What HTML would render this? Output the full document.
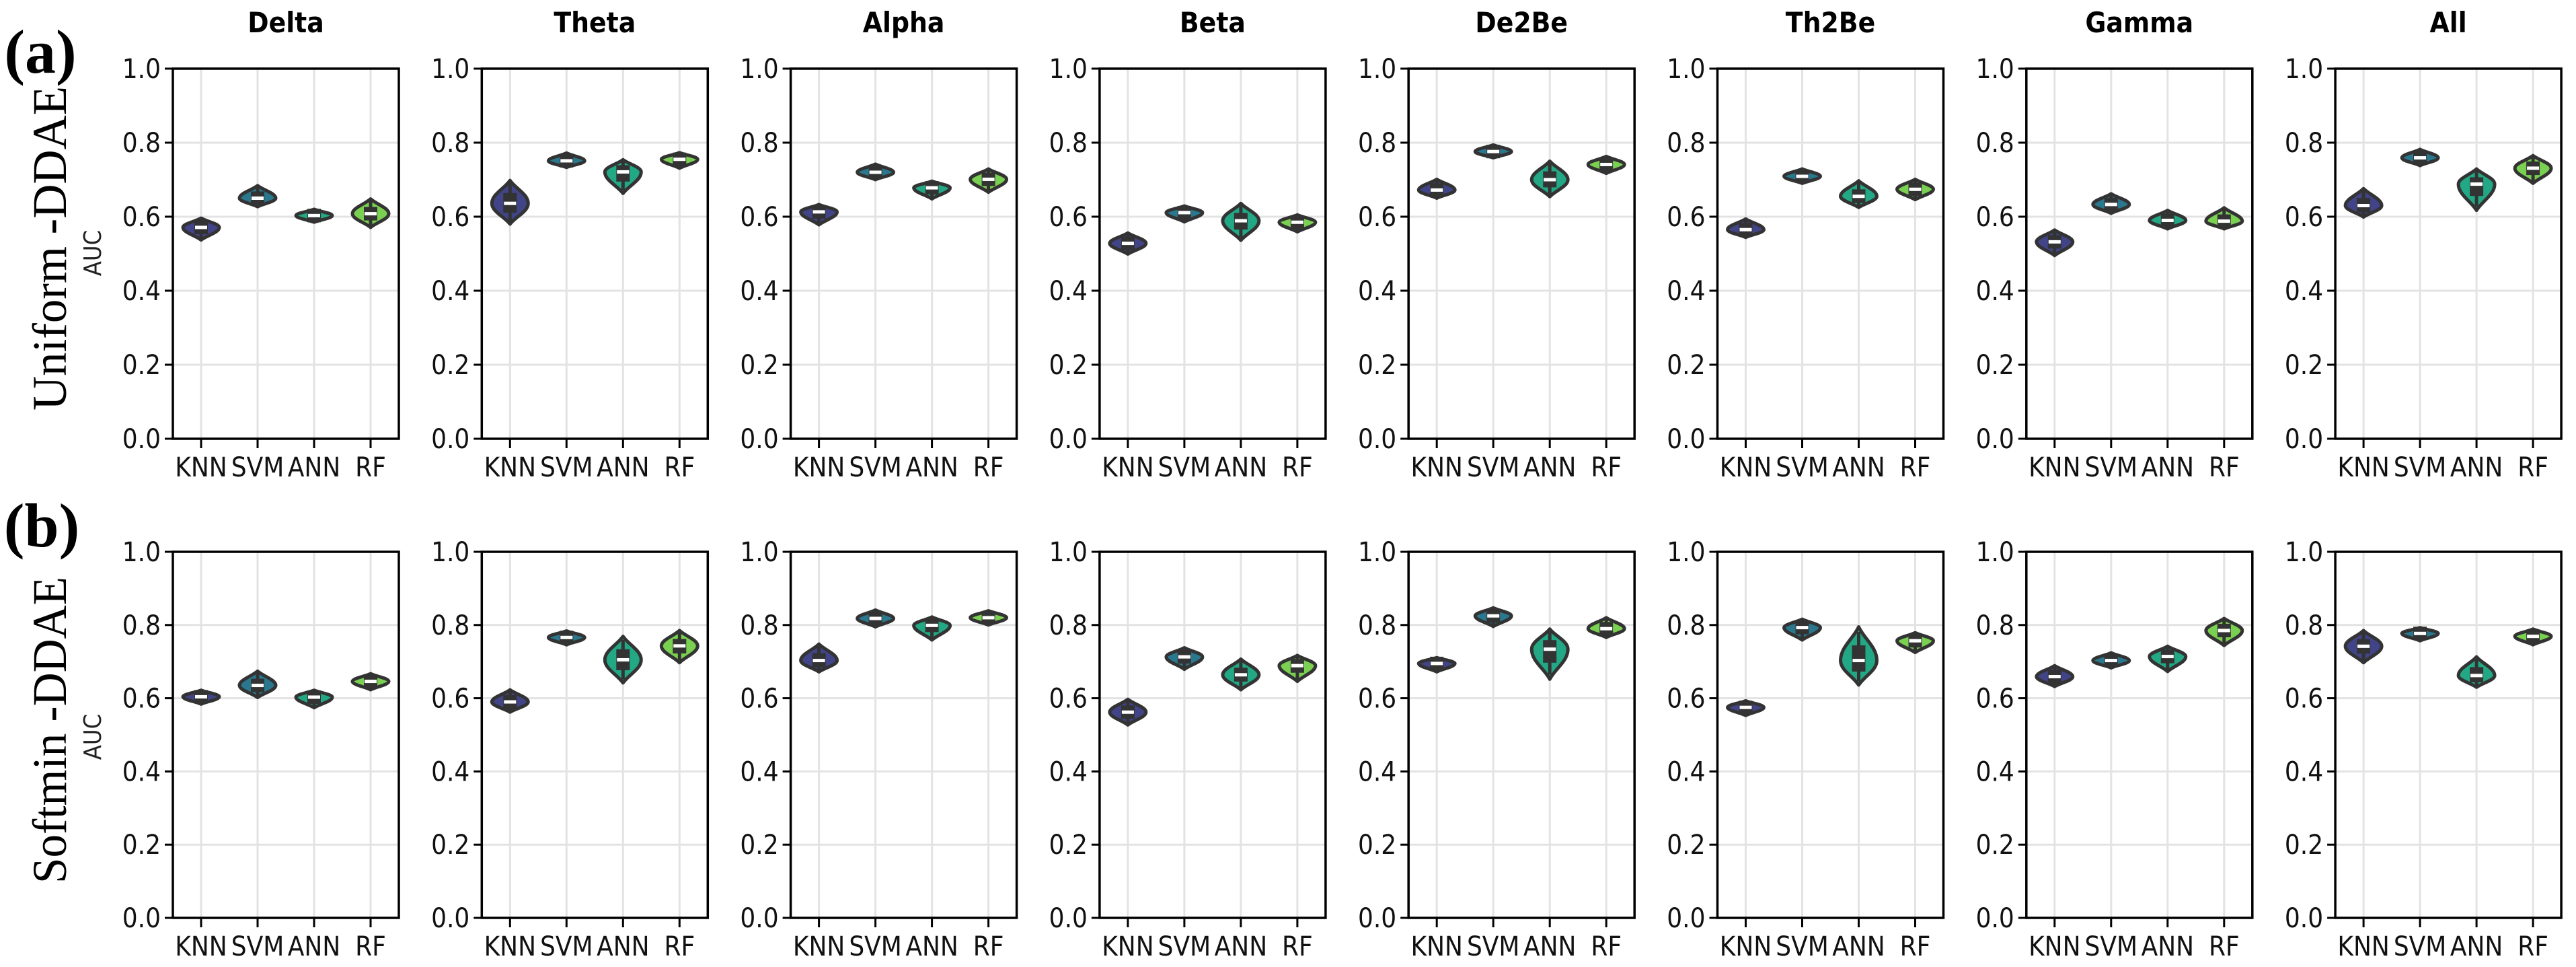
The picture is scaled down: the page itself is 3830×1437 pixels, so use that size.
<!DOCTYPE html>
<html><head><meta charset="utf-8"><style>
html,body{margin:0;padding:0;background:#fff;}
svg{display:block;}
text{font-family:"DejaVu Sans Condensed","DejaVu Sans","Liberation Sans",sans-serif;}
.serif{font-family:"Liberation Serif",serif;}
</style></head><body>
<svg id="fig" width="3830" height="1437" viewBox="0 0 3830 1437" xmlns="http://www.w3.org/2000/svg">
<text class="serif" x="60" y="108" font-weight="bold" font-size="92" fill="#000" text-anchor="middle">(a)</text>
<text class="serif" x="62" y="812" font-weight="bold" font-size="92" fill="#000" text-anchor="middle">(b)</text>
<text class="serif" transform="translate(98,369) rotate(-90)" font-size="72" fill="#000" text-anchor="middle" textLength="482" lengthAdjust="spacingAndGlyphs">Uniform -DDAE</text>
<text class="serif" transform="translate(98,1085) rotate(-90)" font-size="72" fill="#000" text-anchor="middle" textLength="456" lengthAdjust="spacingAndGlyphs">Softmin -DDAE</text>
</svg>
<script>
const bands = ["Delta","Theta","Alpha","Beta","De2Be","Th2Be","Gamma","All"];
const classifiers = ["KNN","SVM","ANN","RF"];
const yTicks = [0.0,0.2,0.4,0.6,0.8,1.0];
const yTickLabels = ["0.0","0.2","0.4","0.6","0.8","1.0"];
// Row a (Uniform-DDAE): median, min, max per band [KNN,SVM,ANN,RF]
const uniformMedian = [[0.571,0.650,0.603,0.608],[0.636,0.751,0.721,0.755],[0.613,0.720,0.678,0.701],[0.528,0.611,0.589,0.585],[0.672,0.776,0.700,0.741],[0.565,0.709,0.655,0.674],[0.532,0.633,0.590,0.588],[0.630,0.759,0.688,0.731]];
const uniformMin = [[0.537,0.627,0.585,0.571],[0.580,0.733,0.663,0.731],[0.578,0.700,0.648,0.666],[0.499,0.586,0.536,0.559],[0.650,0.759,0.654,0.717],[0.544,0.690,0.625,0.646],[0.495,0.609,0.567,0.567],[0.599,0.738,0.617,0.690]];
const uniformMax = [[0.596,0.684,0.620,0.648],[0.698,0.772,0.754,0.773],[0.633,0.742,0.696,0.729],[0.556,0.629,0.636,0.605],[0.701,0.794,0.750,0.763],[0.594,0.729,0.697,0.701],[0.564,0.662,0.617,0.624],[0.676,0.782,0.729,0.765]];
// Row b (Softmin-DDAE)
const softminMedian = [[0.604,0.635,0.603,0.646],[0.590,0.766,0.705,0.743],[0.703,0.818,0.799,0.820],[0.562,0.713,0.664,0.689],[0.695,0.825,0.734,0.790],[0.575,0.793,0.703,0.757],[0.659,0.703,0.714,0.785],[0.742,0.777,0.662,0.769]];
const softminMin = [[0.584,0.602,0.574,0.623],[0.562,0.746,0.642,0.697],[0.672,0.795,0.759,0.800],[0.527,0.679,0.623,0.646],[0.672,0.796,0.652,0.766],[0.553,0.759,0.636,0.725],[0.632,0.683,0.673,0.744],[0.697,0.757,0.630,0.746]];
const softminMax = [[0.622,0.674,0.622,0.667],[0.623,0.784,0.769,0.785],[0.748,0.841,0.822,0.839],[0.597,0.738,0.707,0.717],[0.711,0.847,0.789,0.820],[0.593,0.816,0.795,0.779],[0.689,0.724,0.742,0.818],[0.785,0.793,0.713,0.789]];

const colors = ["#414487","#2a788e","#22a884","#7ad151"];
const svg = document.getElementById('fig');
const NS = "http://www.w3.org/2000/svg";
function mk(tag, attrs, parent){const e=document.createElementNS(NS,tag);for(const k in attrs)e.setAttribute(k,attrs[k]);(parent||svg).appendChild(e);return e;}

const rows = [
 {top:102,bottom:652,med:uniformMedian,lo:uniformMin,hi:uniformMax,label:'uniform',xlab:708,auc:376},
 {top:820,bottom:1364,med:softminMedian,lo:softminMin,hi:softminMax,label:'softmin',xlab:1420,auc:1095}
];
const panelLeft0 = 257, pitch = 459.3, panelW = 336;

rows.forEach((row, ri) => {
  const yS = v => row.bottom - v*(row.bottom-row.top);
  bands.forEach((band, bi) => {
    const L = panelLeft0 + bi*pitch, R = L + panelW;
    const xS = i => L + panelW*(i+0.5)/4;
    const g = mk('g',{});
    
    
    yTicks.forEach((t, ti) => {
      const gl = mk('line',{x1:L,x2:R,y1:yS(t),y2:yS(t),stroke:'#e3e3e3','stroke-width':3},g);
      
      
      const tk = mk('line',{x1:L-12,x2:L,y1:yS(t),y2:yS(t),stroke:'#000','stroke-width':3},g);
      
      
      const tl = mk('text',{x:L-18,y:yS(t)+14,'font-size':40,'text-anchor':'end',fill:'#111'},g);
      tl.textContent = yTickLabels[ti];
      
      
    });
    classifiers.forEach((c, ci) => {
      const gl = mk('line',{x1:xS(ci),x2:xS(ci),y1:row.top,y2:row.bottom,stroke:'#e3e3e3','stroke-width':3},g);
      
      
      const tk = mk('line',{x1:xS(ci),x2:xS(ci),y1:row.bottom,y2:row.bottom+14,stroke:'#000','stroke-width':3},g);
      
      
      const tl = mk('text',{x:xS(ci),y:row.xlab,'font-size':40,'text-anchor':'middle',fill:'#111'},g);
      tl.textContent = c;
      
      
    });
    classifiers.forEach((c, ci) => {
      const m=row.med[bi][ci], lo=row.lo[bi][ci], hi=row.hi[bi][ci];
      const x=xS(ci), ym=yS(m), yl=yS(lo), yh=yS(hi), hw=27;
      const vg = mk('g',{},g);
      
      
      const up = ym-yh, dn = yl-ym;
      const d = `M ${x} ${yh} C ${x+hw*0.3} ${yh+up*0.35}, ${x+hw} ${ym-up*0.4}, ${x+hw} ${ym} C ${x+hw} ${ym+dn*0.4}, ${x+hw*0.3} ${yl-dn*0.35}, ${x} ${yl} C ${x-hw*0.3} ${yl-dn*0.35}, ${x-hw} ${ym+dn*0.4}, ${x-hw} ${ym} C ${x-hw} ${ym-up*0.4}, ${x-hw*0.3} ${yh+up*0.35}, ${x} ${yh} Z`;
      const p = mk('path',{d:d,fill:colors[ci],stroke:'#333','stroke-width':5,'stroke-linejoin':'round'},vg);
      
      
      const wl = mk('line',{x1:x,x2:x,y1:yh+up*0.15,y2:yl-dn*0.15,stroke:'#333','stroke-width':5},vg);
      
      
      const q3 = ym-Math.max(up*0.45,10), q1 = ym+Math.max(dn*0.45,10);
      const bx = mk('rect',{x:x-10,y:q3,width:20,height:q1-q3,fill:'#333'},vg);
      
      
      const md = mk('rect',{x:x-9,y:ym-2.5,width:18,height:5,fill:'#fff'},vg);
      
      
    });
    const sp = mk('path',{d:`M ${L} ${row.top} H ${R} V ${row.bottom} H ${L} Z`,fill:'none',stroke:'#000','stroke-width':3.5},g);
    
    
    if (ri===0){
      const t = mk('text',{x:(L+R)/2,y:48,'font-size':42,'font-weight':'bold','text-anchor':'middle',fill:'#000'},g);
      t.textContent = band;
      
      
    }
    if (bi===0){
      const a = mk('text',{transform:`translate(150,${row.auc}) rotate(-90)`,'font-size':36,'text-anchor':'middle',fill:'#222'},g);
      a.textContent = 'AUC';
      
      
    }
  });
});
</script>
</body></html>
